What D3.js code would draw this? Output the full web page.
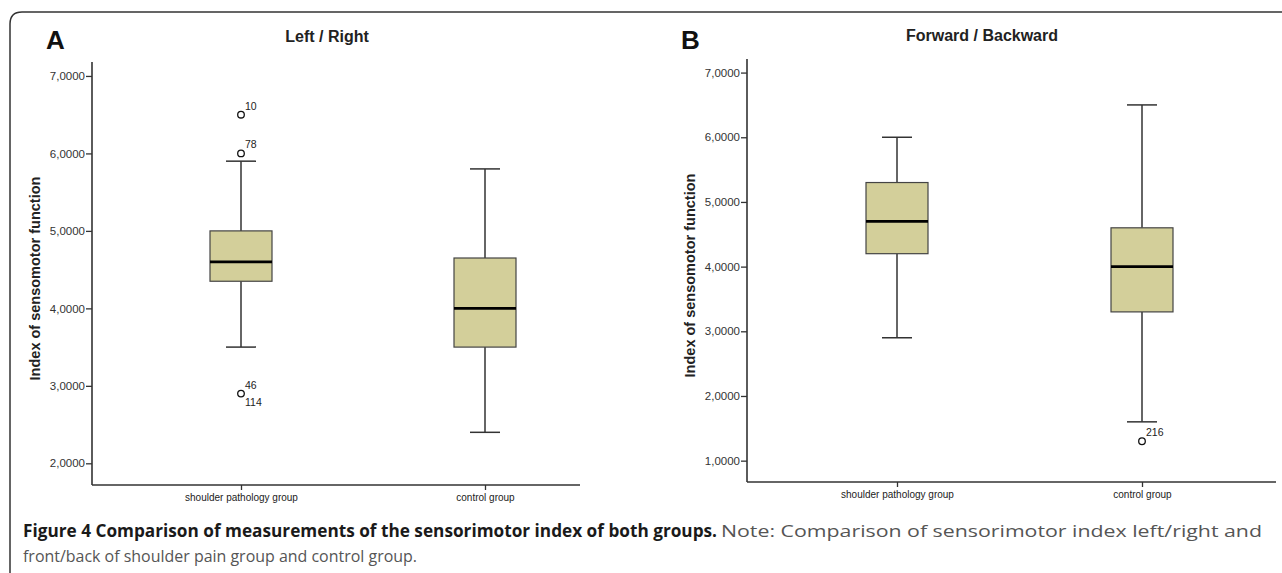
<!DOCTYPE html>
<html>
<head>
<meta charset="utf-8">
<script src="https://cdn.jsdelivr.net/npm/d3@7"></script>
<style>
  html, body { margin: 0; padding: 0; background: #fff; }
  svg { display: block; }
</style>
</head>
<body>
<svg id="chart" width="1282" height="573"></svg>
<script>
// ---- data ----
const categories = ["shoulder pathology group", "control group"];
const panelLetters = ["A", "B"];
const panelTitles = ["Left / Right", "Forward / Backward"];
const yLabel = "Index of sensomotor function";

// box stats: [lowerWhisker, q1, median, q3, upperWhisker]
const leftRightStats = [
  [3.5, 4.35, 4.6, 5.0, 5.9],
  [2.4, 3.5, 4.0, 4.65, 5.8]
];
const forwardBackwardStats = [
  [2.9, 4.2, 4.7, 5.3, 6.0],
  [1.6, 3.3, 4.0, 4.6, 6.5]
];
// outliers: [categoryIndex, value, label above, label below]
const leftRightOutliers = [
  [0, 6.5, "10", ""],
  [0, 6.0, "78", ""],
  [0, 2.9, "46", "114"]
];
const forwardBackwardOutliers = [
  [1, 1.3, "216", ""]
];
const leftRightTicks = [2, 3, 4, 5, 6, 7];
const forwardBackwardTicks = [1, 2, 3, 4, 5, 6, 7];
const leftRightDomain = [1.72, 7.18];
const forwardBackwardDomain = [0.67, 7.21];

const captionBold = "Figure 4 Comparison of measurements of the sensorimotor index of both groups.";
const captionNote = "Note: Comparison of sensorimotor index left/right and";
const captionLine2 = "front/back of shoulder pain group and control group.";

// ---- drawing ----
const svg = d3.select("#chart");
const lineCol = "#333";
const boxFill = "#d3cf9a";
const fmt = v => d3.format(".4f")(v).replace(".", ",");
const sans = "Liberation Sans, Arial, sans-serif";

// outer frame
svg.append("path")
  .attr("d", "M10,573 V24 Q10,12 22,12 H1282")
  .attr("fill", "none").attr("stroke", "#333").attr("stroke-width", 1.5);

const panels = [
  { letter: panelLetters[0], title: panelTitles[0], stats: leftRightStats, outliers: leftRightOutliers,
    ticks: leftRightTicks, domain: leftRightDomain,
    x0: 92, x1: 580, y0: 62, y1: 485, cats: [241, 485], letterX: 46, titleX: 327, titleY: 42, ylabX: 40 },
  { letter: panelLetters[1], title: panelTitles[1], stats: forwardBackwardStats, outliers: forwardBackwardOutliers,
    ticks: forwardBackwardTicks, domain: forwardBackwardDomain,
    x0: 747, x1: 1276, y0: 59, y1: 482, cats: [897, 1142], letterX: 681, titleX: 982, titleY: 41, ylabX: 695 }
];

panels.forEach(p => {
  const g = svg.append("g");
  const y = d3.scaleLinear().domain(p.domain).range([p.y1, p.y0]);
  const step = p.cats[1] - p.cats[0];
  const x = d3.scalePoint().domain(categories)
    .range([p.cats[0] - step / 2, p.cats[1] + step / 2]).padding(0.5);

  // letter and title
  g.append("text").attr("x", p.letterX).attr("y", 49)
    .attr("font-family", sans).attr("font-weight", "bold")
    .attr("font-size", 26).attr("fill", "#111").text(p.letter);
  g.append("text").attr("x", p.titleX).attr("y", p.titleY).attr("text-anchor", "middle")
    .attr("font-family", sans).attr("font-weight", "bold")
    .attr("font-size", 16).attr("fill", "#222").text(p.title);

  // y axis
  const yAxis = g.append("g").attr("transform", `translate(${p.x0},0)`)
    .call(d3.axisLeft(y).tickValues(p.ticks).tickFormat(fmt).tickSize(6).tickPadding(1).tickSizeOuter(0));
  yAxis.select(".domain").remove();
  yAxis.selectAll(".tick line").attr("stroke", lineCol).attr("stroke-width", 1.3);
  yAxis.selectAll(".tick text").attr("font-family", sans)
    .attr("font-size", 11.5).attr("fill", "#333");
  g.append("line").attr("x1", p.x0).attr("x2", p.x0).attr("y1", p.y0).attr("y2", p.y1)
    .attr("stroke", lineCol).attr("stroke-width", 1.6);

  // x axis
  const xAxis = g.append("g").attr("transform", `translate(0,${p.y1})`)
    .call(d3.axisBottom(x).tickSize(5).tickPadding(4).tickSizeOuter(0));
  xAxis.select(".domain").remove();
  xAxis.selectAll(".tick line").attr("stroke", lineCol).attr("stroke-width", 1.3);
  xAxis.selectAll(".tick text").attr("font-family", sans)
    .attr("font-size", 10).attr("fill", "#222");
  g.append("line").attr("x1", p.x0).attr("x2", p.x1).attr("y1", p.y1).attr("y2", p.y1)
    .attr("stroke", lineCol).attr("stroke-width", 1.6);

  // y label
  g.append("text")
    .attr("transform", `translate(${p.ylabX},${(p.y0 + p.y1) / 2 + 5}) rotate(-90)`)
    .attr("text-anchor", "middle")
    .attr("font-family", sans).attr("font-weight", "bold")
    .attr("font-size", 14.5).attr("fill", "#222").text(yLabel);

  // boxes
  const boxW = 62, capW = 30;
  p.stats.forEach((s, i) => {
    const cx = x(categories[i]);
    const [lw, q1, med, q3, uw] = s;
    const bg = g.append("g");
    bg.append("line").attr("x1", cx).attr("x2", cx).attr("y1", y(uw)).attr("y2", y(q3))
      .attr("stroke", lineCol).attr("stroke-width", 1.5);
    bg.append("line").attr("x1", cx).attr("x2", cx).attr("y1", y(q1)).attr("y2", y(lw))
      .attr("stroke", lineCol).attr("stroke-width", 1.5);
    bg.append("line").attr("x1", cx - capW / 2).attr("x2", cx + capW / 2).attr("y1", y(uw)).attr("y2", y(uw))
      .attr("stroke", lineCol).attr("stroke-width", 1.5);
    bg.append("line").attr("x1", cx - capW / 2).attr("x2", cx + capW / 2).attr("y1", y(lw)).attr("y2", y(lw))
      .attr("stroke", lineCol).attr("stroke-width", 1.5);
    bg.append("rect").attr("x", cx - boxW / 2).attr("width", boxW)
      .attr("y", y(q3)).attr("height", y(q1) - y(q3))
      .attr("fill", boxFill).attr("stroke", "#444").attr("stroke-width", 1.2);
    bg.append("line").attr("x1", cx - boxW / 2).attr("x2", cx + boxW / 2).attr("y1", y(med)).attr("y2", y(med))
      .attr("stroke", "#000").attr("stroke-width", 2.6);
  });

  // outliers
  p.outliers.forEach(o => {
    const cx = x(categories[o[0]]);
    const cy = y(o[1]);
    g.append("circle").attr("cx", cx).attr("cy", cy).attr("r", 3.3)
      .attr("fill", "#fff").attr("stroke", "#111").attr("stroke-width", 1.3);
    if (o[2]) g.append("text").attr("x", cx + 4).attr("y", cy - 5)
      .attr("font-family", sans).attr("font-size", 10.5)
      .attr("fill", "#222").text(o[2]);
    if (o[3]) g.append("text").attr("x", cx + 4).attr("y", cy + 12)
      .attr("font-family", sans).attr("font-size", 10.5)
      .attr("fill", "#222").text(o[3]);
  });
});

// caption
const capFont = "Open Sans, Noto Sans, sans-serif";
svg.append("text").attr("x", 23).attr("y", 537)
  .attr("font-family", capFont).attr("font-weight", "bold").attr("font-size", 17)
  .attr("fill", "#1a1a1a").attr("textLength", 694).attr("lengthAdjust", "spacingAndGlyphs")
  .text(captionBold);
svg.append("text").attr("x", 721).attr("y", 537)
  .attr("font-family", capFont).attr("font-size", 17)
  .attr("fill", "#555").attr("textLength", 541).attr("lengthAdjust", "spacingAndGlyphs")
  .text(captionNote);
svg.append("text").attr("x", 23).attr("y", 562)
  .attr("font-family", capFont).attr("font-size", 17)
  .attr("fill", "#555").attr("textLength", 394).attr("lengthAdjust", "spacingAndGlyphs")
  .text(captionLine2);
</script>
</body>
</html>
